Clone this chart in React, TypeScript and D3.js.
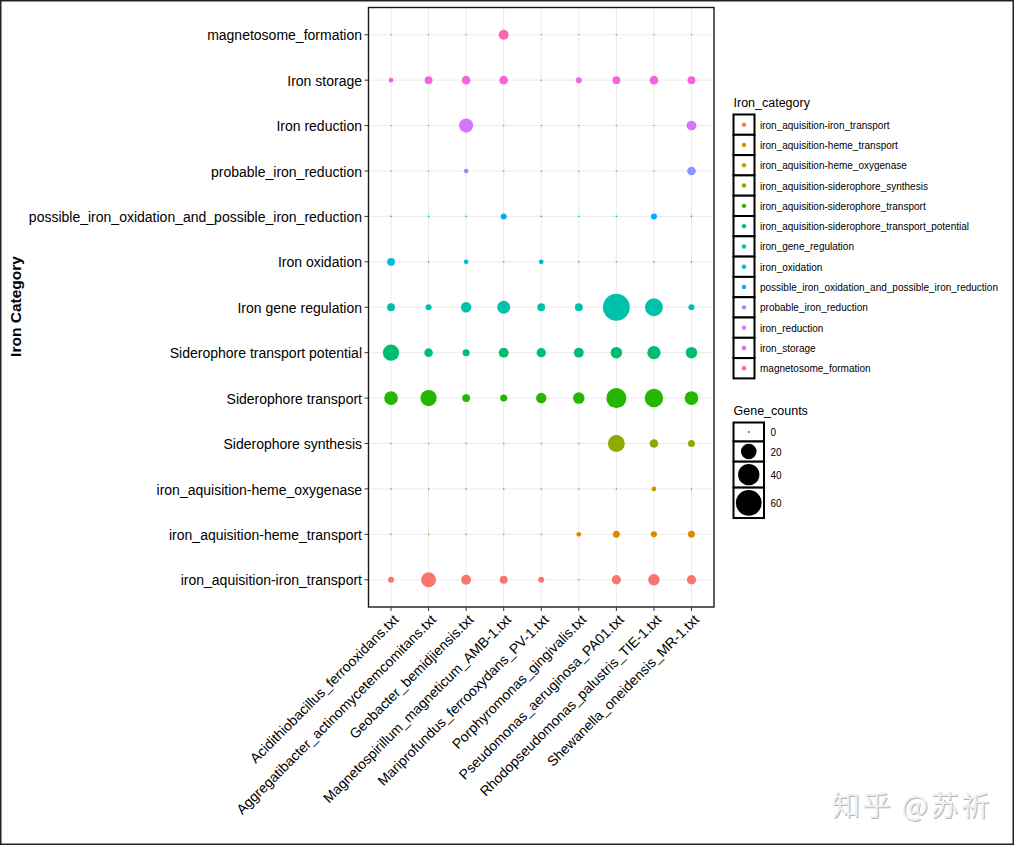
import React from "react";
import * as d3 from "d3";

// ---------------- data ----------------
const genomes = [
  "Acidithiobacillus_ferrooxidans.txt",
  "Aggregatibacter_actinomycetemcomitans.txt",
  "Geobacter_bemidjiensis.txt",
  "Magnetospirillum_magneticum_AMB-1.txt",
  "Mariprofundus_ferrooxydans_PV-1.txt",
  "Porphyromonas_gingivalis.txt",
  "Pseudomonas_aeruginosa_PA01.txt",
  "Rhodopseudomonas_palustris_TIE-1.txt",
  "Shewanella_oneidensis_MR-1.txt",
];

// legend / factor order (bottom row of the plot first)
const categoryKeys = [
  "iron_aquisition-iron_transport",
  "iron_aquisition-heme_transport",
  "iron_aquisition-heme_oxygenase",
  "iron_aquisition-siderophore_synthesis",
  "iron_aquisition-siderophore_transport",
  "iron_aquisition-siderophore_transport_potential",
  "iron_gene_regulation",
  "iron_oxidation",
  "possible_iron_oxidation_and_possible_iron_reduction",
  "probable_iron_reduction",
  "iron_reduction",
  "iron_storage",
  "magnetosome_formation",
];

const axisLabels = [
  "iron_aquisition-iron_transport",
  "iron_aquisition-heme_transport",
  "iron_aquisition-heme_oxygenase",
  "Siderophore synthesis",
  "Siderophore transport",
  "Siderophore transport potential",
  "Iron gene regulation",
  "Iron oxidation",
  "possible_iron_oxidation_and_possible_iron_reduction",
  "probable_iron_reduction",
  "Iron reduction",
  "Iron storage",
  "magnetosome_formation",
];

const palette = [
  "#F8766D", "#E18A00", "#BE9C00", "#8CAB00", "#24B700", "#00BE70", "#00C1AB",
  "#00BBDA", "#00ACFC", "#8B93FF", "#D575FE", "#F962DD", "#FF65AC",
];

// gene counts per genome (same order as genomes)
const ironTransport = [2, 18, 7, 4, 2, 0, 6, 10, 6];
const hemeTransport = [0, 0, 0, 0, 0, 1, 3, 2, 3];
const hemeOxygenase = [0, 0, 0, 0, 0, 0, 0, 1, 0];
const siderophoreSynthesis = [0, 0, 0, 0, 0, 0, 24, 5, 3];
const siderophoreTransport = [15, 22, 4, 3, 8, 10, 35, 29, 15];
const siderophoreTransportPotential = [22, 5, 3, 7, 6, 7, 10, 14, 10];
const ironGeneRegulation = [4, 2, 8, 13, 4, 4, 65, 27, 2];
const ironOxidation = [4, 0, 1, 0, 1, 0, 0, 0, 0];
const possibleOxRed = [0, 0, 0, 2, 0, 0, 0, 2, 0];
const probableIronReduction = [0, 0, 1, 0, 0, 0, 0, 0, 5];
const ironReduction = [0, 0, 16, 0, 0, 0, 0, 0, 7];
const ironStorage = [1, 4, 5, 5, 0, 2, 4, 5, 4];
const magnetosomeFormation = [0, 0, 0, 7, 0, 0, 0, 0, 0];

const countsByCategory = [
  ironTransport,
  hemeTransport,
  hemeOxygenase,
  siderophoreSynthesis,
  siderophoreTransport,
  siderophoreTransportPotential,
  ironGeneRegulation,
  ironOxidation,
  possibleOxRed,
  probableIronReduction,
  ironReduction,
  ironStorage,
  magnetosomeFormation,
];

const sizeBreaks = [0, 20, 40, 60];

// ---------------- chart ----------------
const W = 1015;
const H = 847;
const FONT = "'Liberation Sans', Arial, Helvetica, sans-serif";

const panel = { left: 368.5, right: 714, top: 7.5, bottom: 607 };

export default function App() {
  const x = d3
    .scalePoint<string>()
    .domain(genomes)
    .range([panel.left, panel.right])
    .padding(0.6);
  const y = d3
    .scalePoint<string>()
    .domain(categoryKeys)
    .range([panel.bottom, panel.top])
    .padding(0.6);
  const r = d3.scaleSqrt().domain([0, 60]).range([0.8, 12.9]);
  const color = d3.scaleOrdinal<string, string>().domain(categoryKeys).range(palette);

  const points = categoryKeys.flatMap((cat, ci) =>
    genomes.map((g, gi) => ({ cat, g, v: countsByCategory[ci][gi] }))
  );

  // legend layout
  const legX = 733.5;
  const colTop = 114.5;
  const colRowH = 20.3;
  const colBoxW = 21;

  const sizeTop = 422.5;
  const sizeBoxW = 30.5;
  const sizeBoxH = sizeBreaks.map((b) => Math.max(19, 2 * r(b) + 4.6));
  const sizeY: number[] = [];
  let acc = sizeTop;
  sizeBoxH.forEach((h) => {
    sizeY.push(acc);
    acc += h;
  });

  return (
    <svg
      width={W}
      height={H}
      style={{ position: "absolute", left: 0, top: 0, background: "#fff" }}
      fontFamily={FONT}
    >
      <rect x={0} y={0} width={W} height={H} fill="#fff" />
      {/* outer frame */}
      <rect x={0.75} y={0.75} width={1012.5} height={843.5} fill="none" stroke="#222" strokeWidth={1.5} />

      {/* grid */}
      <g stroke="#EBEBEB" strokeWidth={1}>
        {genomes.map((g) => (
          <line key={g} x1={x(g)} x2={x(g)} y1={panel.top} y2={panel.bottom} />
        ))}
        {categoryKeys.map((c) => (
          <line key={c} x1={panel.left} x2={panel.right} y1={y(c)} y2={y(c)} />
        ))}
      </g>

      {/* points */}
      <g>
        {points.map((p) => (
          <circle
            key={p.cat + p.g}
            cx={x(p.g)}
            cy={y(p.cat)}
            r={r(p.v)}
            fill={color(p.cat)}
          />
        ))}
      </g>

      {/* panel border */}
      <rect
        x={panel.left}
        y={panel.top}
        width={panel.right - panel.left}
        height={panel.bottom - panel.top}
        fill="none"
        stroke="#1a1a1a"
        strokeWidth={1.4}
      />

      {/* y axis */}
      <g>
        {categoryKeys.map((c, i) => (
          <g key={c}>
            <line x1={panel.left - 4} x2={panel.left} y1={y(c)} y2={y(c)} stroke="#333" strokeWidth={1} />
            <text x={panel.left - 6.5} y={y(c)} dy="0.4em" textAnchor="end" fontSize={14} fill="#000">
              {axisLabels[i]}
            </text>
          </g>
        ))}
      </g>
      <text
        transform={`translate(20.5,306.5) rotate(-90)`}
        textAnchor="middle"
        fontSize={15.5}
        fontWeight="bold"
        fill="#000"
      >
        Iron Category
      </text>

      {/* x axis */}
      <g>
        {genomes.map((g) => (
          <g key={g}>
            <line x1={x(g)} x2={x(g)} y1={panel.bottom} y2={panel.bottom + 4} stroke="#333" strokeWidth={1} />
            <text
              transform={`translate(${(x(g) as number) + 1},${panel.bottom + 6}) rotate(-45)`}
              textAnchor="end"
              dy="0.75em"
              fontSize={14}
              fill="#000"
            >
              {g}
            </text>
          </g>
        ))}
      </g>

      {/* colour legend */}
      <text x={legX} y={107.3} fontSize={12.5} fill="#000">
        Iron_category
      </text>
      {categoryKeys.map((c, i) => {
        const yy = colTop + i * colRowH;
        return (
          <g key={c}>
            <rect x={legX} y={yy} width={colBoxW} height={colRowH} fill="#fff" stroke="#000" strokeWidth={2} />
            <circle cx={legX + colBoxW / 2} cy={yy + colRowH / 2} r={2.2} fill={color(c)} />
            <text x={760} y={yy + colRowH / 2} dy="0.4em" fontSize={10} fill="#000">
              {c}
            </text>
          </g>
        );
      })}

      {/* size legend */}
      <text x={legX} y={415} fontSize={12.5} fill="#000">
        Gene_counts
      </text>
      {sizeBreaks.map((b, i) => (
        <g key={b}>
          <rect x={legX} y={sizeY[i]} width={sizeBoxW} height={sizeBoxH[i]} fill="#fff" stroke="#000" strokeWidth={2} />
          <circle cx={legX + sizeBoxW / 2} cy={sizeY[i] + sizeBoxH[i] / 2} r={r(b)} fill="#000" />
          <text x={770.5} y={sizeY[i] + sizeBoxH[i] / 2} dy="0.4em" fontSize={10} fill="#000">
            {b}
          </text>
        </g>
      ))}

      {/* watermark */}
      <g fontFamily="'Noto Sans CJK SC', sans-serif" fontSize={28}>
        <text x={833} y={817} fill="#b5b5b5" textLength={157} lengthAdjust="spacing">知乎 @苏祈</text>
        <text x={832} y={816} fill="#f0f0f0" textLength={157} lengthAdjust="spacing">知乎 @苏祈</text>
      </g>
    </svg>
  );
}
